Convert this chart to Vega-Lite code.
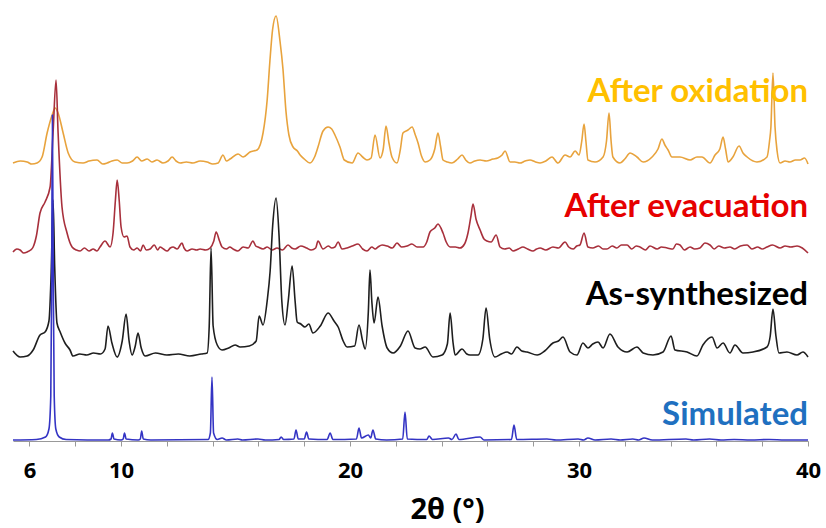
{
"$schema": "https://vega.github.io/schema/vega-lite/v6.json",
"width": 795, "height": 441,
"autosize": "none",
"padding": {"left": 13, "top": 0, "right": 18, "bottom": 87},
"background": "white",
"config": {"view": {"stroke": null}},
"datasets": {
"traces": [
{"s":"oxi","x":5.28,"y":278},{"s":"oxi","x":5.6,"y":280},{"s":"oxi","x":5.9,"y":279},{"s":"oxi","x":6.1,"y":277},{"s":"oxi","x":6.33,"y":278},{"s":"oxi","x":6.55,"y":284},{"s":"oxi","x":6.77,"y":308},{"s":"oxi","x":6.99,"y":326},{"s":"oxi","x":7.12,"y":333},{"s":"oxi","x":7.25,"y":328},{"s":"oxi","x":7.47,"y":308},{"s":"oxi","x":7.69,"y":288},{"s":"oxi","x":7.99,"y":279},{"s":"oxi","x":8.34,"y":278},{"s":"oxi","x":8.6,"y":280},{"s":"oxi","x":8.95,"y":281},{"s":"oxi","x":9.2,"y":277},{"s":"oxi","x":9.39,"y":278},{"s":"oxi","x":9.6,"y":280},{"s":"oxi","x":9.83,"y":281},{"s":"oxi","x":10.05,"y":278},{"s":"oxi","x":10.26,"y":278},{"s":"oxi","x":10.5,"y":280},{"s":"oxi","x":10.7,"y":284},{"s":"oxi","x":10.9,"y":280},{"s":"oxi","x":11.14,"y":282},{"s":"oxi","x":11.35,"y":279},{"s":"oxi","x":11.57,"y":281},{"s":"oxi","x":11.83,"y":278},{"s":"oxi","x":12.05,"y":280},{"s":"oxi","x":12.23,"y":284},{"s":"oxi","x":12.4,"y":280},{"s":"oxi","x":12.58,"y":278},{"s":"oxi","x":12.85,"y":279},{"s":"oxi","x":13.14,"y":278},{"s":"oxi","x":13.45,"y":280},{"s":"oxi","x":13.76,"y":279},{"s":"oxi","x":14.0,"y":277},{"s":"oxi","x":14.24,"y":278},{"s":"oxi","x":14.45,"y":286},{"s":"oxi","x":14.6,"y":280},{"s":"oxi","x":14.76,"y":282},{"s":"oxi","x":15.11,"y":287},{"s":"oxi","x":15.33,"y":284},{"s":"oxi","x":15.63,"y":289},{"s":"oxi","x":15.94,"y":291},{"s":"oxi","x":16.2,"y":308},{"s":"oxi","x":16.38,"y":341},{"s":"oxi","x":16.5,"y":380},{"s":"oxi","x":16.62,"y":412},{"s":"oxi","x":16.77,"y":425},{"s":"oxi","x":16.94,"y":400},{"s":"oxi","x":17.07,"y":372},{"s":"oxi","x":17.2,"y":330},{"s":"oxi","x":17.33,"y":306},{"s":"oxi","x":17.51,"y":294},{"s":"oxi","x":17.7,"y":290},{"s":"oxi","x":17.82,"y":286},{"s":"oxi","x":18.0,"y":282},{"s":"oxi","x":18.25,"y":278},{"s":"oxi","x":18.45,"y":284},{"s":"oxi","x":18.6,"y":294},{"s":"oxi","x":18.82,"y":310},{"s":"oxi","x":19.04,"y":314},{"s":"oxi","x":19.2,"y":312},{"s":"oxi","x":19.34,"y":306},{"s":"oxi","x":19.56,"y":294},{"s":"oxi","x":19.75,"y":281},{"s":"oxi","x":20.09,"y":278},{"s":"oxi","x":20.35,"y":288},{"s":"oxi","x":20.55,"y":284},{"s":"oxi","x":20.74,"y":281},{"s":"oxi","x":20.92,"y":283},{"s":"oxi","x":21.09,"y":306},{"s":"oxi","x":21.31,"y":283},{"s":"oxi","x":21.45,"y":292},{"s":"oxi","x":21.57,"y":315},{"s":"oxi","x":21.7,"y":298},{"s":"oxi","x":21.83,"y":284},{"s":"oxi","x":22.05,"y":278},{"s":"oxi","x":22.2,"y":292},{"s":"oxi","x":22.31,"y":308},{"s":"oxi","x":22.53,"y":311},{"s":"oxi","x":22.71,"y":314},{"s":"oxi","x":22.85,"y":306},{"s":"oxi","x":22.97,"y":298},{"s":"oxi","x":23.12,"y":285},{"s":"oxi","x":23.28,"y":279},{"s":"oxi","x":23.49,"y":281},{"s":"oxi","x":23.7,"y":292},{"s":"oxi","x":23.84,"y":308},{"s":"oxi","x":23.95,"y":295},{"s":"oxi","x":24.06,"y":281},{"s":"oxi","x":24.25,"y":279},{"s":"oxi","x":24.45,"y":278},{"s":"oxi","x":24.7,"y":282},{"s":"oxi","x":24.89,"y":286},{"s":"oxi","x":25.05,"y":281},{"s":"oxi","x":25.24,"y":278},{"s":"oxi","x":25.45,"y":280},{"s":"oxi","x":25.68,"y":281},{"s":"oxi","x":25.95,"y":280},{"s":"oxi","x":26.24,"y":282},{"s":"oxi","x":26.45,"y":283},{"s":"oxi","x":26.64,"y":286},{"s":"oxi","x":26.77,"y":290},{"s":"oxi","x":26.99,"y":279},{"s":"oxi","x":27.2,"y":279},{"s":"oxi","x":27.42,"y":278},{"s":"oxi","x":27.65,"y":280},{"s":"oxi","x":27.86,"y":281},{"s":"oxi","x":28.1,"y":279},{"s":"oxi","x":28.3,"y":278},{"s":"oxi","x":28.55,"y":280},{"s":"oxi","x":28.82,"y":284},{"s":"oxi","x":29.08,"y":278},{"s":"oxi","x":29.39,"y":286},{"s":"oxi","x":29.61,"y":284},{"s":"oxi","x":29.83,"y":290},{"s":"oxi","x":30.0,"y":286},{"s":"oxi","x":30.12,"y":300},{"s":"oxi","x":30.22,"y":317},{"s":"oxi","x":30.3,"y":300},{"s":"oxi","x":30.39,"y":281},{"s":"oxi","x":30.7,"y":279},{"s":"oxi","x":31.05,"y":284},{"s":"oxi","x":31.2,"y":300},{"s":"oxi","x":31.31,"y":328},{"s":"oxi","x":31.4,"y":300},{"s":"oxi","x":31.48,"y":284},{"s":"oxi","x":31.79,"y":278},{"s":"oxi","x":32.0,"y":282},{"s":"oxi","x":32.23,"y":288},{"s":"oxi","x":32.53,"y":284},{"s":"oxi","x":32.8,"y":279},{"s":"oxi","x":33.19,"y":284},{"s":"oxi","x":33.45,"y":292},{"s":"oxi","x":33.62,"y":302},{"s":"oxi","x":33.75,"y":296},{"s":"oxi","x":33.89,"y":291},{"s":"oxi","x":34.06,"y":284},{"s":"oxi","x":34.41,"y":284},{"s":"oxi","x":34.85,"y":281},{"s":"oxi","x":35.15,"y":284},{"s":"oxi","x":35.37,"y":284},{"s":"oxi","x":35.72,"y":278},{"s":"oxi","x":35.94,"y":286},{"s":"oxi","x":36.15,"y":292},{"s":"oxi","x":36.29,"y":304},{"s":"oxi","x":36.4,"y":292},{"s":"oxi","x":36.51,"y":279},{"s":"oxi","x":36.72,"y":284},{"s":"oxi","x":36.99,"y":295},{"s":"oxi","x":37.16,"y":288},{"s":"oxi","x":37.34,"y":284},{"s":"oxi","x":37.77,"y":279},{"s":"oxi","x":38.21,"y":284},{"s":"oxi","x":38.32,"y":300},{"s":"oxi","x":38.38,"y":314},{"s":"oxi","x":38.47,"y":368},{"s":"oxi","x":38.56,"y":314},{"s":"oxi","x":38.65,"y":290},{"s":"oxi","x":38.78,"y":278},{"s":"oxi","x":39.0,"y":280},{"s":"oxi","x":39.21,"y":279},{"s":"oxi","x":39.45,"y":281},{"s":"oxi","x":39.65,"y":281},{"s":"oxi","x":39.85,"y":283},{"s":"oxi","x":40.0,"y":277},

{"s":"evac","x":5.28,"y":189},{"s":"evac","x":5.45,"y":192},{"s":"evac","x":5.59,"y":191},{"s":"evac","x":5.75,"y":188},{"s":"evac","x":5.9,"y":189},{"s":"evac","x":6.05,"y":191},{"s":"evac","x":6.16,"y":194},{"s":"evac","x":6.3,"y":205},{"s":"evac","x":6.46,"y":228},{"s":"evac","x":6.68,"y":239},{"s":"evac","x":6.9,"y":254},{"s":"evac","x":7.03,"y":308},{"s":"evac","x":7.16,"y":361},{"s":"evac","x":7.25,"y":308},{"s":"evac","x":7.42,"y":234},{"s":"evac","x":7.64,"y":208},{"s":"evac","x":7.86,"y":194},{"s":"evac","x":8.05,"y":191},{"s":"evac","x":8.21,"y":190},{"s":"evac","x":8.4,"y":193},{"s":"evac","x":8.6,"y":190},{"s":"evac","x":8.78,"y":192},{"s":"evac","x":8.95,"y":190},{"s":"evac","x":9.08,"y":194},{"s":"evac","x":9.3,"y":200},{"s":"evac","x":9.52,"y":194},{"s":"evac","x":9.65,"y":208},{"s":"evac","x":9.75,"y":240},{"s":"evac","x":9.83,"y":261},{"s":"evac","x":9.92,"y":240},{"s":"evac","x":10.0,"y":214},{"s":"evac","x":10.13,"y":204},{"s":"evac","x":10.26,"y":205},{"s":"evac","x":10.39,"y":194},{"s":"evac","x":10.55,"y":191},{"s":"evac","x":10.7,"y":193},{"s":"evac","x":10.85,"y":190},{"s":"evac","x":10.96,"y":196},{"s":"evac","x":11.1,"y":191},{"s":"evac","x":11.27,"y":192},{"s":"evac","x":11.45,"y":196},{"s":"evac","x":11.6,"y":191},{"s":"evac","x":11.7,"y":194},{"s":"evac","x":11.85,"y":192},{"s":"evac","x":12.01,"y":190},{"s":"evac","x":12.15,"y":193},{"s":"evac","x":12.27,"y":194},{"s":"evac","x":12.45,"y":192},{"s":"evac","x":12.66,"y":198},{"s":"evac","x":12.75,"y":193},{"s":"evac","x":12.88,"y":190},{"s":"evac","x":13.1,"y":192},{"s":"evac","x":13.3,"y":191},{"s":"evac","x":13.45,"y":192},{"s":"evac","x":13.7,"y":191},{"s":"evac","x":13.89,"y":193},{"s":"evac","x":14.05,"y":200},{"s":"evac","x":14.15,"y":209},{"s":"evac","x":14.3,"y":200},{"s":"evac","x":14.41,"y":194},{"s":"evac","x":14.6,"y":192},{"s":"evac","x":14.75,"y":194},{"s":"evac","x":14.89,"y":192},{"s":"evac","x":15.1,"y":190},{"s":"evac","x":15.33,"y":194},{"s":"evac","x":15.55,"y":193},{"s":"evac","x":15.76,"y":200},{"s":"evac","x":15.88,"y":195},{"s":"evac","x":15.98,"y":194},{"s":"evac","x":16.2,"y":192},{"s":"evac","x":16.38,"y":194},{"s":"evac","x":16.6,"y":191},{"s":"evac","x":16.81,"y":193},{"s":"evac","x":17.05,"y":191},{"s":"evac","x":17.29,"y":196},{"s":"evac","x":17.45,"y":193},{"s":"evac","x":17.6,"y":192},{"s":"evac","x":17.85,"y":195},{"s":"evac","x":18.1,"y":193},{"s":"evac","x":18.3,"y":191},{"s":"evac","x":18.5,"y":193},{"s":"evac","x":18.6,"y":200},{"s":"evac","x":18.82,"y":192},{"s":"evac","x":19.05,"y":195},{"s":"evac","x":19.2,"y":193},{"s":"evac","x":19.34,"y":194},{"s":"evac","x":19.48,"y":199},{"s":"evac","x":19.65,"y":192},{"s":"evac","x":19.87,"y":193},{"s":"evac","x":20.1,"y":195},{"s":"evac","x":20.35,"y":197},{"s":"evac","x":20.55,"y":192},{"s":"evac","x":20.74,"y":190},{"s":"evac","x":20.95,"y":194},{"s":"evac","x":21.1,"y":192},{"s":"evac","x":21.22,"y":194},{"s":"evac","x":21.4,"y":196},{"s":"evac","x":21.62,"y":195},{"s":"evac","x":21.85,"y":193},{"s":"evac","x":22.05,"y":198},{"s":"evac","x":22.25,"y":194},{"s":"evac","x":22.49,"y":195},{"s":"evac","x":22.7,"y":197},{"s":"evac","x":22.93,"y":194},{"s":"evac","x":23.19,"y":194},{"s":"evac","x":23.35,"y":199},{"s":"evac","x":23.49,"y":209},{"s":"evac","x":23.7,"y":213},{"s":"evac","x":23.84,"y":217},{"s":"evac","x":24.06,"y":208},{"s":"evac","x":24.2,"y":199},{"s":"evac","x":24.37,"y":194},{"s":"evac","x":24.6,"y":194},{"s":"evac","x":24.8,"y":193},{"s":"evac","x":25.0,"y":197},{"s":"evac","x":25.15,"y":208},{"s":"evac","x":25.28,"y":225},{"s":"evac","x":25.37,"y":237},{"s":"evac","x":25.5,"y":222},{"s":"evac","x":25.68,"y":211},{"s":"evac","x":25.85,"y":202},{"s":"evac","x":25.98,"y":200},{"s":"evac","x":26.16,"y":199},{"s":"evac","x":26.38,"y":206},{"s":"evac","x":26.55,"y":194},{"s":"evac","x":26.75,"y":192},{"s":"evac","x":26.95,"y":193},{"s":"evac","x":27.12,"y":190},{"s":"evac","x":27.35,"y":192},{"s":"evac","x":27.55,"y":194},{"s":"evac","x":27.75,"y":192},{"s":"evac","x":27.99,"y":190},{"s":"evac","x":28.15,"y":192},{"s":"evac","x":28.3,"y":193},{"s":"evac","x":28.55,"y":191},{"s":"evac","x":28.86,"y":194},{"s":"evac","x":29.1,"y":193},{"s":"evac","x":29.39,"y":199},{"s":"evac","x":29.55,"y":194},{"s":"evac","x":29.74,"y":192},{"s":"evac","x":29.9,"y":195},{"s":"evac","x":30.04,"y":196},{"s":"evac","x":30.22,"y":208},{"s":"evac","x":30.39,"y":194},{"s":"evac","x":30.6,"y":193},{"s":"evac","x":30.85,"y":195},{"s":"evac","x":31.05,"y":192},{"s":"evac","x":31.22,"y":192},{"s":"evac","x":31.45,"y":195},{"s":"evac","x":31.65,"y":193},{"s":"evac","x":31.85,"y":196},{"s":"evac","x":32.1,"y":196},{"s":"evac","x":32.3,"y":192},{"s":"evac","x":32.5,"y":195},{"s":"evac","x":32.66,"y":194},{"s":"evac","x":32.9,"y":191},{"s":"evac","x":33.1,"y":195},{"s":"evac","x":33.41,"y":192},{"s":"evac","x":33.6,"y":194},{"s":"evac","x":33.85,"y":193},{"s":"evac","x":34.1,"y":192},{"s":"evac","x":34.25,"y":197},{"s":"evac","x":34.41,"y":196},{"s":"evac","x":34.6,"y":191},{"s":"evac","x":34.85,"y":194},{"s":"evac","x":35.05,"y":192},{"s":"evac","x":35.28,"y":193},{"s":"evac","x":35.5,"y":198},{"s":"evac","x":35.72,"y":196},{"s":"evac","x":35.9,"y":192},{"s":"evac","x":36.1,"y":195},{"s":"evac","x":36.35,"y":193},{"s":"evac","x":36.59,"y":194},{"s":"evac","x":36.8,"y":192},{"s":"evac","x":37.05,"y":195},{"s":"evac","x":37.34,"y":196},{"s":"evac","x":37.55,"y":192},{"s":"evac","x":37.8,"y":194},{"s":"evac","x":38.0,"y":192},{"s":"evac","x":38.21,"y":194},{"s":"evac","x":38.45,"y":196},{"s":"evac","x":38.78,"y":193},{"s":"evac","x":39.0,"y":195},{"s":"evac","x":39.25,"y":194},{"s":"evac","x":39.52,"y":195},{"s":"evac","x":39.75,"y":193},{"s":"evac","x":40.0,"y":188},

{"s":"syn","x":5.28,"y":90},{"s":"syn","x":5.59,"y":84},{"s":"syn","x":5.9,"y":85},{"s":"syn","x":6.16,"y":91},{"s":"syn","x":6.46,"y":106},{"s":"syn","x":6.68,"y":109},{"s":"syn","x":6.85,"y":120},{"s":"syn","x":6.95,"y":170},{"s":"syn","x":7.03,"y":241},{"s":"syn","x":7.1,"y":175},{"s":"syn","x":7.2,"y":118},{"s":"syn","x":7.34,"y":109},{"s":"syn","x":7.55,"y":98},{"s":"syn","x":7.77,"y":91},{"s":"syn","x":7.9,"y":85},{"s":"syn","x":8.2,"y":87},{"s":"syn","x":8.5,"y":86},{"s":"syn","x":8.8,"y":88},{"s":"syn","x":9.1,"y":87},{"s":"syn","x":9.3,"y":92},{"s":"syn","x":9.43,"y":115},{"s":"syn","x":9.6,"y":98},{"s":"syn","x":9.83,"y":84},{"s":"syn","x":10.05,"y":100},{"s":"syn","x":10.22,"y":127},{"s":"syn","x":10.35,"y":100},{"s":"syn","x":10.48,"y":86},{"s":"syn","x":10.62,"y":95},{"s":"syn","x":10.74,"y":108},{"s":"syn","x":10.88,"y":93},{"s":"syn","x":11.05,"y":85},{"s":"syn","x":11.5,"y":88},{"s":"syn","x":12.0,"y":86},{"s":"syn","x":12.5,"y":87},{"s":"syn","x":13.0,"y":85},{"s":"syn","x":13.5,"y":87},{"s":"syn","x":13.76,"y":88},{"s":"syn","x":13.85,"y":115},{"s":"syn","x":13.93,"y":193},{"s":"syn","x":14.02,"y":115},{"s":"syn","x":14.2,"y":96},{"s":"syn","x":14.41,"y":91},{"s":"syn","x":14.7,"y":93},{"s":"syn","x":14.98,"y":96},{"s":"syn","x":15.2,"y":94},{"s":"syn","x":15.6,"y":95},{"s":"syn","x":15.9,"y":100},{"s":"syn","x":16.03,"y":125},{"s":"syn","x":16.2,"y":116},{"s":"syn","x":16.38,"y":140},{"s":"syn","x":16.51,"y":170},{"s":"syn","x":16.62,"y":215},{"s":"syn","x":16.77,"y":243},{"s":"syn","x":16.9,"y":205},{"s":"syn","x":17.02,"y":140},{"s":"syn","x":17.16,"y":116},{"s":"syn","x":17.3,"y":140},{"s":"syn","x":17.47,"y":175},{"s":"syn","x":17.6,"y":140},{"s":"syn","x":17.69,"y":119},{"s":"syn","x":17.85,"y":117},{"s":"syn","x":18.03,"y":114},{"s":"syn","x":18.2,"y":117},{"s":"syn","x":18.38,"y":108},{"s":"syn","x":18.7,"y":115},{"s":"syn","x":19.04,"y":128},{"s":"syn","x":19.3,"y":120},{"s":"syn","x":19.48,"y":114},{"s":"syn","x":19.7,"y":100},{"s":"syn","x":19.87,"y":94},{"s":"syn","x":20.2,"y":95},{"s":"syn","x":20.39,"y":116},{"s":"syn","x":20.55,"y":100},{"s":"syn","x":20.66,"y":92},{"s":"syn","x":20.8,"y":130},{"s":"syn","x":20.87,"y":171},{"s":"syn","x":20.95,"y":140},{"s":"syn","x":21.05,"y":118},{"s":"syn","x":21.22,"y":144},{"s":"syn","x":21.4,"y":115},{"s":"syn","x":21.62,"y":93},{"s":"syn","x":21.88,"y":88},{"s":"syn","x":22.2,"y":95},{"s":"syn","x":22.53,"y":110},{"s":"syn","x":22.84,"y":93},{"s":"syn","x":23.05,"y":92},{"s":"syn","x":23.28,"y":94},{"s":"syn","x":23.62,"y":84},{"s":"syn","x":24.02,"y":86},{"s":"syn","x":24.25,"y":97},{"s":"syn","x":24.37,"y":128},{"s":"syn","x":24.5,"y":98},{"s":"syn","x":24.59,"y":86},{"s":"syn","x":24.89,"y":92},{"s":"syn","x":25.1,"y":87},{"s":"syn","x":25.24,"y":86},{"s":"syn","x":25.59,"y":86},{"s":"syn","x":25.8,"y":102},{"s":"syn","x":25.94,"y":133},{"s":"syn","x":26.1,"y":102},{"s":"syn","x":26.33,"y":84},{"s":"syn","x":26.6,"y":87},{"s":"syn","x":26.86,"y":89},{"s":"syn","x":27.05,"y":87},{"s":"syn","x":27.29,"y":94},{"s":"syn","x":27.5,"y":90},{"s":"syn","x":27.73,"y":89},{"s":"syn","x":28.17,"y":86},{"s":"syn","x":28.5,"y":90},{"s":"syn","x":28.86,"y":98},{"s":"syn","x":29.1,"y":100},{"s":"syn","x":29.3,"y":104},{"s":"syn","x":29.61,"y":89},{"s":"syn","x":29.91,"y":86},{"s":"syn","x":30.17,"y":98},{"s":"syn","x":30.39,"y":93},{"s":"syn","x":30.6,"y":97},{"s":"syn","x":30.83,"y":99},{"s":"syn","x":31.05,"y":93},{"s":"syn","x":31.35,"y":107},{"s":"syn","x":31.7,"y":94},{"s":"syn","x":32.1,"y":89},{"s":"syn","x":32.53,"y":94},{"s":"syn","x":32.8,"y":88},{"s":"syn","x":33.23,"y":86},{"s":"syn","x":33.67,"y":89},{"s":"syn","x":34.02,"y":105},{"s":"syn","x":34.19,"y":91},{"s":"syn","x":34.72,"y":89},{"s":"syn","x":35.15,"y":85},{"s":"syn","x":35.41,"y":96},{"s":"syn","x":35.81,"y":104},{"s":"syn","x":36.03,"y":93},{"s":"syn","x":36.29,"y":98},{"s":"syn","x":36.59,"y":88},{"s":"syn","x":36.81,"y":96},{"s":"syn","x":37.16,"y":88},{"s":"syn","x":37.6,"y":89},{"s":"syn","x":38.21,"y":94},{"s":"syn","x":38.35,"y":105},{"s":"syn","x":38.47,"y":132},{"s":"syn","x":38.6,"y":105},{"s":"syn","x":38.73,"y":88},{"s":"syn","x":39.08,"y":89},{"s":"syn","x":39.52,"y":86},{"s":"syn","x":39.78,"y":89},{"s":"syn","x":40.0,"y":84},

{"s":"sim","x":5.28,"y":1},{"s":"sim","x":6.3,"y":1.5},{"s":"sim","x":6.7,"y":4},{"s":"sim","x":6.85,"y":12},{"s":"sim","x":6.93,"y":45},{"s":"sim","x":6.97,"y":160},{"s":"sim","x":7.0,"y":326},{"s":"sim","x":7.04,"y":160},{"s":"sim","x":7.08,"y":45},{"s":"sim","x":7.15,"y":12},{"s":"sim","x":7.3,"y":4},{"s":"sim","x":7.6,"y":1.5},{"s":"sim","x":9.45,"y":1},{"s":"sim","x":9.56,"y":2},{"s":"sim","x":9.62,"y":8},{"s":"sim","x":9.69,"y":2},{"s":"sim","x":10.0,"y":1},{"s":"sim","x":10.09,"y":2},{"s":"sim","x":10.15,"y":8},{"s":"sim","x":10.22,"y":2},{"s":"sim","x":10.75,"y":1},{"s":"sim","x":10.84,"y":2},{"s":"sim","x":10.9,"y":10},{"s":"sim","x":10.97,"y":2},{"s":"sim","x":11.3,"y":1},{"s":"sim","x":13.8,"y":1.5},{"s":"sim","x":13.9,"y":8},{"s":"sim","x":13.97,"y":64},{"s":"sim","x":14.04,"y":8},{"s":"sim","x":14.2,"y":1.5},{"s":"sim","x":14.41,"y":3},{"s":"sim","x":14.6,"y":1},{"s":"sim","x":15.1,"y":2},{"s":"sim","x":15.3,"y":1},{"s":"sim","x":15.98,"y":2},{"s":"sim","x":16.3,"y":1},{"s":"sim","x":16.9,"y":1.5},{"s":"sim","x":16.99,"y":4},{"s":"sim","x":17.1,"y":1.5},{"s":"sim","x":17.55,"y":2},{"s":"sim","x":17.64,"y":11},{"s":"sim","x":17.74,"y":2},{"s":"sim","x":18.0,"y":2},{"s":"sim","x":18.1,"y":9},{"s":"sim","x":18.2,"y":2},{"s":"sim","x":19.0,"y":1.5},{"s":"sim","x":19.13,"y":8},{"s":"sim","x":19.25,"y":1.5},{"s":"sim","x":20.28,"y":2},{"s":"sim","x":20.39,"y":13},{"s":"sim","x":20.5,"y":3},{"s":"sim","x":20.8,"y":6},{"s":"sim","x":20.9,"y":3},{"s":"sim","x":21.0,"y":11},{"s":"sim","x":21.12,"y":2},{"s":"sim","x":21.6,"y":1},{"s":"sim","x":22.3,"y":2},{"s":"sim","x":22.4,"y":29},{"s":"sim","x":22.5,"y":2},{"s":"sim","x":23.35,"y":1.5},{"s":"sim","x":23.45,"y":5},{"s":"sim","x":23.6,"y":1.5},{"s":"sim","x":24.3,"y":3},{"s":"sim","x":24.45,"y":1.5},{"s":"sim","x":24.63,"y":7},{"s":"sim","x":24.75,"y":1.5},{"s":"sim","x":25.68,"y":4},{"s":"sim","x":25.85,"y":1},{"s":"sim","x":27.05,"y":1.5},{"s":"sim","x":27.16,"y":16},{"s":"sim","x":27.28,"y":1.5},{"s":"sim","x":28.6,"y":2},{"s":"sim","x":29.0,"y":1},{"s":"sim","x":29.96,"y":2},{"s":"sim","x":30.2,"y":1},{"s":"sim","x":30.39,"y":3},{"s":"sim","x":30.7,"y":1},{"s":"sim","x":31.4,"y":2},{"s":"sim","x":31.8,"y":1},{"s":"sim","x":32.35,"y":2},{"s":"sim","x":32.6,"y":1},{"s":"sim","x":32.84,"y":3},{"s":"sim","x":33.2,"y":1},{"s":"sim","x":34.67,"y":2},{"s":"sim","x":35.0,"y":1},{"s":"sim","x":35.7,"y":2},{"s":"sim","x":36.2,"y":1},{"s":"sim","x":36.77,"y":1.5},{"s":"sim","x":37.5,"y":1},{"s":"sim","x":38.3,"y":1.5},{"s":"sim","x":39.0,"y":1},{"s":"sim","x":40.0,"y":1}
],
"labels": [
{"s":"oxi","label":"After oxidation","x":40.0,"y":339},
{"s":"evac","label":"After evacuation","x":40.0,"y":224},
{"s":"syn","label":"As-synthesized","x":40.0,"y":136},
{"s":"sim","label":"Simulated","x":40.0,"y":16}
]
},
"layer": [
{
"data": {"name": "traces"},
"mark": {"type": "line", "strokeWidth": 1.6, "interpolate": "monotone"},
"encoding": {
"x": {"field": "x", "type": "quantitative",
"scale": {"domain": [5.28, 40], "nice": false, "zero": false},
"axis": {
"title": "2θ (°)",
"values": [6,7,8,9,10,11,12,13,14,15,16,17,18,19,20,21,22,23,24,25,26,27,28,29,30,31,32,33,34,35,36,37,38,39,40],
"labelExpr": "(datum.value == 6 || datum.value % 10 == 0) ? datum.label : ''",
"labelFlush": false, "labelOverlap": false,
"labelFont": "Open Sans", "labelFontSize": 22, "labelFontWeight": "bold", "labelColor": "#000",
"labelPadding": 14,
"tickSize": {"condition": {"test": "datum.value % 10 == 5", "value": 7}, "value": 5},
"tickColor": "#999", "domainColor": "#999", "grid": false,
"titleFont": "Open Sans", "titleFontSize": 29, "titleFontWeight": "bold", "titleColor": "#000",
"titleX": 434, "titleY": 77, "titleBaseline": "alphabetic"
}},
"y": {"field": "y", "type": "quantitative", "scale": {"domain": [0, 441], "nice": false}, "axis": null},
"color": {"field": "s", "type": "nominal",
"scale": {"domain": ["oxi","evac","syn","sim"], "range": ["#E8A33D","#A8303C","#1E1E1E","#3434C4"]},
"legend": null}
}
},
{
"data": {"name": "labels"},
"mark": {"type": "text", "align": "right", "baseline": "alphabetic", "font": "Lato", "fontWeight": "bold", "fontSize": 33},
"encoding": {
"x": {"field": "x", "type": "quantitative"},
"y": {"field": "y", "type": "quantitative"},
"text": {"field": "label"},
"color": {"field": "s", "type": "nominal",
"scale": {"domain": ["oxi","evac","syn","sim"], "range": ["#FFC000","#E60000","#000000","#1F70C0"]},
"legend": null}
}
}
],
"resolve": {"scale": {"color": "independent"}}
}
